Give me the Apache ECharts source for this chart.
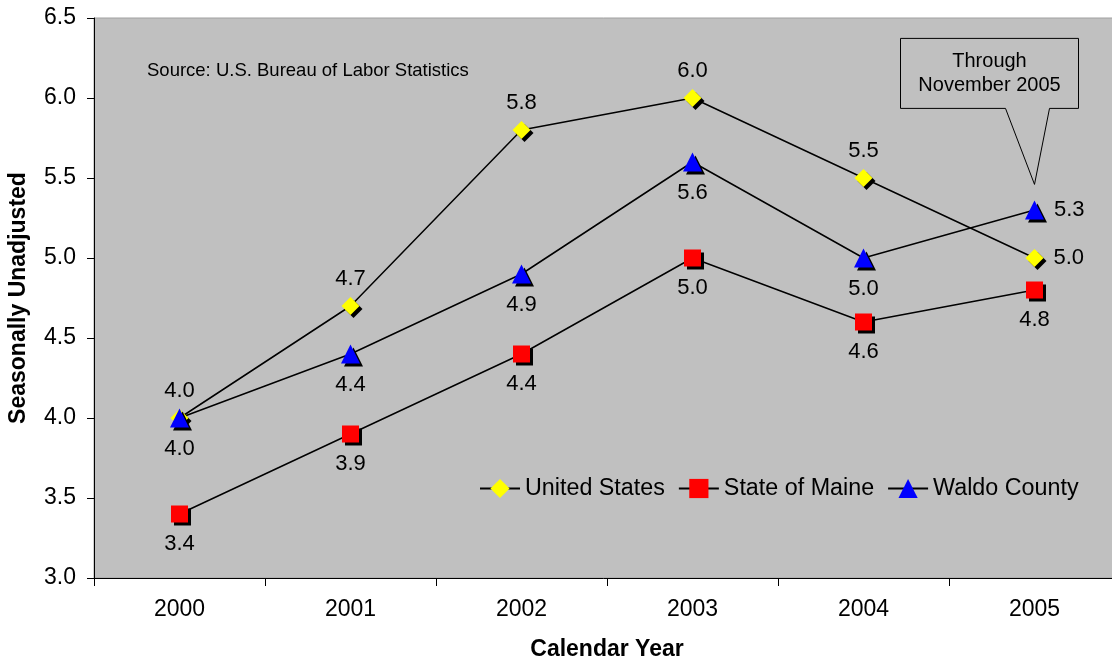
<!DOCTYPE html>
<html>
<head>
<meta charset="utf-8">
<script src="https://cdn.jsdelivr.net/npm/echarts@6/dist/echarts.min.js"></script>
<style>
  html, body { margin: 0; padding: 0; background: #fff; }
  #chart { width: 1112px; height: 662px; }
</style>
</head>
<body>
<div id="chart"></div>
<script>
// Unemployment rate, calendar-year averages
var years = ['2000', '2001', '2002', '2003', '2004', '2005'];
var unitedStates = [4.0, 4.7, 5.8, 6.0, 5.5, 5.0];
var stateOfMaine = [3.4, 3.9, 4.4, 5.0, 4.6, 4.8];
var waldoCounty = [4.0, 4.4, 4.9, 5.6, 5.0, 5.3];
var yTicks = { min: 3.0, max: 6.5, step: 0.5 };

// where each series puts its value labels
var usLabelPos = ['top', 'top', 'top', 'top', 'top', 'right'];
var maineLabelPos = ['bottom', 'bottom', 'bottom', 'bottom', 'bottom', 'bottom'];
var waldoLabelPos = ['bottom', 'bottom', 'bottom', 'bottom', 'bottom', 'right'];

var FONT = '"Liberation Sans", Arial, sans-serif';
var LABEL_GAP = { top: 7, bottom: 10, right: 10 };

function points(values, positions) {
  return values.map(function (v, i) {
    return {
      value: v,
      label: { position: positions[i], distance: LABEL_GAP[positions[i]] }
    };
  });
}

function lineSeries(name, values, positions, symbol, size, color) {
  return {
    name: name,
    type: 'line',
    data: points(values, positions),
    symbol: symbol,
    symbolSize: size,
    showAllSymbol: true,
    lineStyle: { color: '#000', width: 1.5 },
    itemStyle: {
      color: color,
      borderWidth: 0,
      shadowColor: '#000',
      shadowOffsetX: 3,
      shadowOffsetY: 3,
      shadowBlur: 0
    },
    label: {
      show: true,
      fontFamily: FONT,
      fontSize: 22,
      color: '#000',
      formatter: function (p) { return p.value.toFixed(1); }
    },
    emphasis: { disabled: true },
    animation: false
  };
}

var chart = echarts.init(document.getElementById('chart'));

chart.setOption({
  backgroundColor: '#fff',
  animation: false,
  title: {
    text: 'Source: U.S. Bureau of Labor Statistics',
    left: 147,
    top: 61,
    padding: 0,
    textStyle: { fontFamily: FONT, fontSize: 18.5, fontWeight: 'normal', color: '#000' }
  },
  grid: {
    left: 94,
    top: 18,
    width: 1026,
    height: 560,
    containLabel: false,
    outerBoundsMode: 'none',
    show: true,
    backgroundColor: '#c0c0c0',
    borderColor: '#a0a0a0',
    borderWidth: 1
  },
  legend: {
    left: 474,
    top: 472,
    itemWidth: 40,
    itemHeight: 24,
    itemGap: 13,
    textStyle: { fontFamily: FONT, fontSize: 23.3, color: '#000' },
    data: ['United States', 'State of Maine', 'Waldo County']
  },
  xAxis: {
    type: 'category',
    data: years,
    boundaryGap: true,
    name: 'Calendar Year',
    nameLocation: 'middle',
    nameGap: 60,
    nameTextStyle: { fontFamily: FONT, fontSize: 23, fontWeight: 'bold', color: '#000' },
    axisLine: { show: true, lineStyle: { color: '#000', width: 1 } },
    axisTick: { show: true, alignWithLabel: false, length: 8, lineStyle: { color: '#000' } },
    axisLabel: { fontFamily: FONT, fontSize: 23, color: '#000', margin: 20 },
    splitLine: { show: false }
  },
  yAxis: {
    type: 'value',
    min: yTicks.min,
    max: yTicks.max,
    interval: yTicks.step,
    name: 'Seasonally Unadjusted',
    nameLocation: 'middle',
    nameGap: 64,
    nameRotate: 90,
    nameTextStyle: { fontFamily: FONT, fontSize: 23, fontWeight: 'bold', color: '#000' },
    axisLine: { show: true, lineStyle: { color: '#000', width: 1 } },
    axisTick: { show: true, length: 7, lineStyle: { color: '#000' } },
    axisLabel: {
      fontFamily: FONT, fontSize: 23, color: '#000', margin: 18,
      formatter: function (v) { return v.toFixed(1); }
    },
    splitLine: { show: false }
  },
  series: [
    lineSeries('United States', unitedStates, usLabelPos, 'diamond', 18, '#ffff00'),
    lineSeries('State of Maine', stateOfMaine, maineLabelPos, 'rect', 17, '#ff0000'),
    lineSeries('Waldo County', waldoCounty, waldoLabelPos, 'triangle', 19, '#0000ff')
  ]
});

// Callout pointing at the partial-year 2005 figures
var tip = chart.convertToPixel({ xAxisIndex: 0, yAxisIndex: 0 }, ['2005', 5.46]);
var tx = tip[0], ty = tip[1];
chart.setOption({
  graphic: [
    {
      type: 'polygon',
      z: 100,
      shape: {
        points: [
          [tx - 134, ty - 146], [tx + 44, ty - 146], [tx + 44, ty - 76],
          [tx + 15, ty - 76], [tx, ty], [tx - 29, ty - 76], [tx - 134, ty - 76]
        ]
      },
      style: { fill: '#c0c0c0', stroke: '#000', lineWidth: 1 }
    },
    {
      type: 'text',
      z: 101,
      x: tx - 45,
      y: ty - 111,
      style: {
        text: 'Through\nNovember 2005',
        align: 'center',
        verticalAlign: 'middle',
        fontFamily: FONT,
        fontSize: 20,
        lineHeight: 24,
        fill: '#000'
      }
    }
  ]
});
</script>
</body>
</html>
